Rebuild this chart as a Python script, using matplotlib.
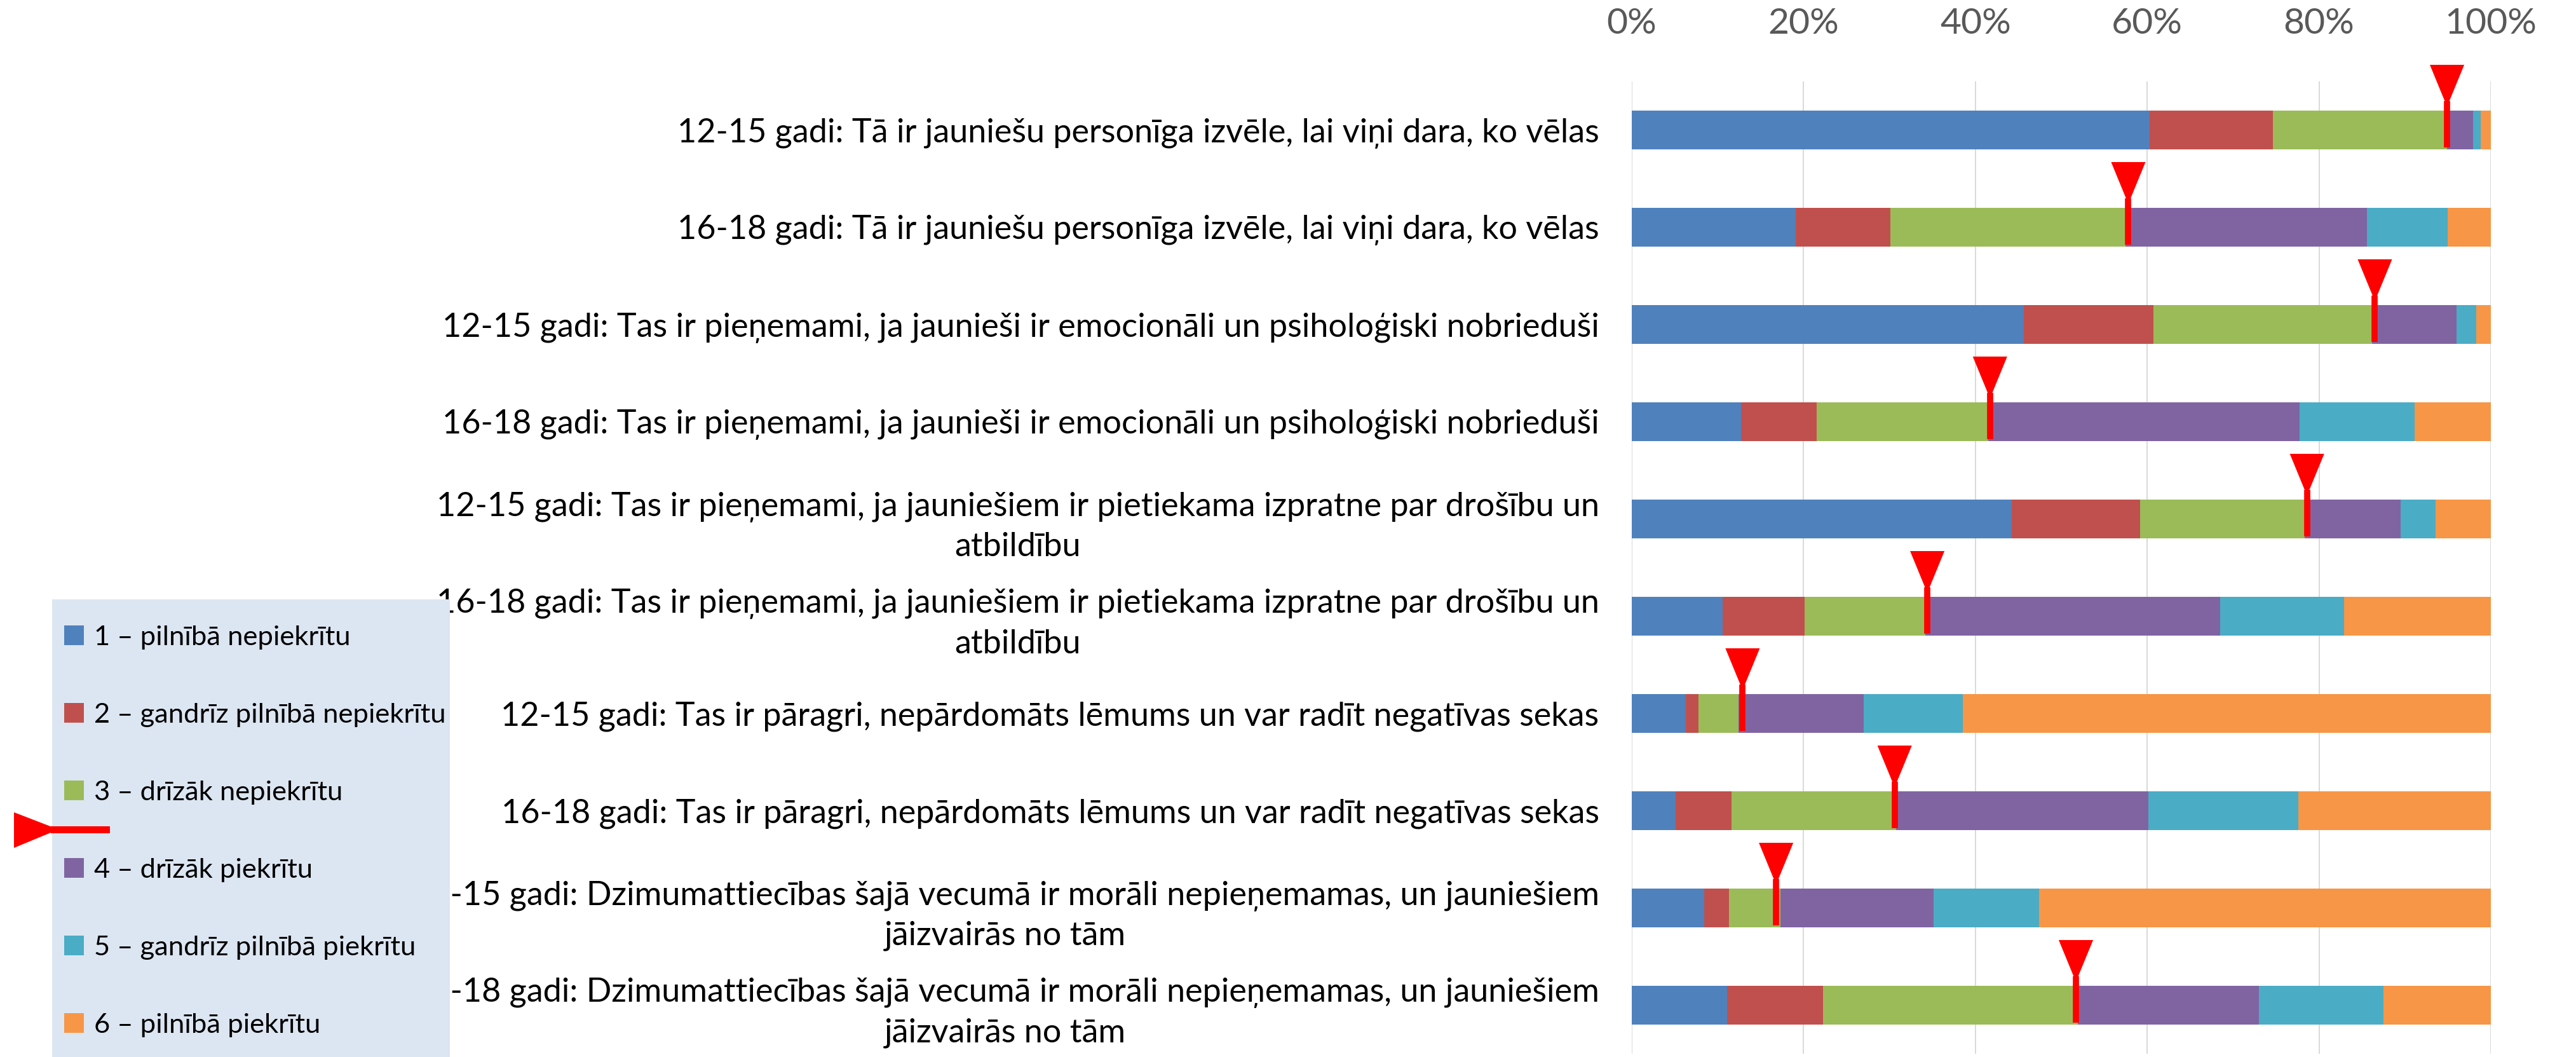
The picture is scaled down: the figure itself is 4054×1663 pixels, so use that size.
import matplotlib
matplotlib.use("Agg")
import matplotlib.pyplot as plt
from matplotlib.patches import Rectangle, Polygon
from matplotlib.ticker import PercentFormatter
import numpy as np

plt.rcParams['font.family'] = ['Lato', 'DejaVu Sans']

# category labels (top to bottom)
categories = [
    "12-15 gadi: Tā ir jauniešu personīga izvēle, lai viņi dara, ko vēlas",
    "16-18 gadi: Tā ir jauniešu personīga izvēle, lai viņi dara, ko vēlas",
    "12-15 gadi: Tas ir pieņemami, ja jaunieši ir emocionāli un psiholoģiski nobrieduši",
    "16-18 gadi: Tas ir pieņemami, ja jaunieši ir emocionāli un psiholoģiski nobrieduši",
    "12-15 gadi: Tas ir pieņemami, ja jauniešiem ir pietiekama izpratne par drošību un\natbildību",
    "16-18 gadi: Tas ir pieņemami, ja jauniešiem ir pietiekama izpratne par drošību un\natbildību",
    "12-15 gadi: Tas ir pāragri, nepārdomāts lēmums un var radīt negatīvas sekas",
    "16-18 gadi: Tas ir pāragri, nepārdomāts lēmums un var radīt negatīvas sekas",
    "12-15 gadi: Dzimumattiecības šajā vecumā ir morāli nepieņemamas, un jauniešiem\njāizvairās no tām",
    "16-18 gadi: Dzimumattiecības šajā vecumā ir morāli nepieņemamas, un jauniešiem\njāizvairās no tām",
]

series_names = [
    "1 – pilnībā nepiekrītu",
    "2 – gandrīz pilnībā nepiekrītu",
    "3 – drīzāk nepiekrītu",
    "4 – drīzāk piekrītu",
    "5 – gandrīz pilnībā piekrītu",
    "6 – pilnībā piekrītu",
]

# shares in %
s1 = [60.3, 19.1, 45.6, 12.7, 44.2, 10.6, 6.3, 5.1, 8.4, 11.1]
s2 = [14.3, 11.0, 15.1, 8.8, 15.0, 9.5, 1.5, 6.5, 2.9, 11.2]
s3 = [20.3, 27.4, 25.5, 20.0, 19.1, 14.1, 4.6, 19.2, 6.0, 29.6]
s4 = [3.0, 28.1, 9.8, 36.2, 11.2, 34.3, 14.6, 29.3, 17.8, 21.1]
s5 = [0.9, 9.4, 2.3, 13.4, 4.1, 14.4, 11.5, 17.5, 12.3, 14.5]
s6 = [1.2, 5.0, 1.7, 8.9, 6.4, 17.1, 61.5, 22.4, 52.6, 12.5]

# red marker positions (%)
markers = [94.9, 57.8, 86.5, 41.7, 78.6, 34.4, 12.9, 30.6, 16.8, 51.7]

colors = ["#4F81BD", "#C0504D", "#9BBB59", "#8064A2", "#4BACC6", "#F79646"]

W, H = 4055, 1663
fig = plt.figure(figsize=(W / 100, H / 100), dpi=100)
ax = fig.add_axes([2568 / W, 1 - 1658 / H, (3920 - 2568) / W, (1658 - 128) / H])

y = np.arange(len(categories))
left = np.zeros(len(categories))
handles = []
for vals, col, name in zip([s1, s2, s3, s4, s5, s6], colors, series_names):
    b = ax.barh(y, vals, left=left, height=0.4, color=col, label=name, zorder=2)
    handles.append(b)
    left += np.array(vals)

# red pointers: narrow triangle on top, line through the bar
for yi, m in zip(y, markers):
    ax.fill([m - 2.0, m + 2.0, m], [yi - 0.67, yi - 0.67, yi - 0.24],
            color="#FF0000", zorder=4, lw=0, clip_on=False)
    ax.plot([m, m], [yi - 0.3, yi + 0.18], color="#FF0000", lw=7, zorder=4,
            solid_capstyle="butt", clip_on=False)

ax.set_xlim(0, 100)
ax.set_ylim(len(categories) - 0.5, -0.5)
ax.xaxis.set_major_formatter(PercentFormatter(decimals=0))
ax.set_xticks([0, 20, 40, 60, 80, 100])
ax.xaxis.tick_top()
ax.tick_params(axis="x", length=0, pad=47, labelsize=41, labelcolor="#595959")
ax.set_yticks(y)
ax.set_yticklabels(categories, multialignment="center", linespacing=1.4)
ax.tick_params(axis="y", length=0, pad=37, labelsize=37.5)
ax.grid(axis="x", color="#D9D9D9", lw=1.4, zorder=0)
ax.set_axisbelow(True)
for sp in ax.spines.values():
    sp.set_visible(False)

# legend box (drawn over the labels)
fig.patches.append(Rectangle((82 / W, 0), 626 / W, (H - 943) / H,
                             transform=fig.transFigure, facecolor="#DCE6F2",
                             edgecolor="none", zorder=3))
fig.legend(handles=handles, loc="upper left", bbox_to_anchor=(101 / W, 1 - 984 / H),
           frameon=False, fontsize=31.3, handlelength=0.72, handleheight=0.72,
           handletextpad=0.35, labelspacing=1.93, borderpad=0, borderaxespad=0)

# red pointer on the left
fig.patches.append(Polygon([(22 / W, 1 - 1278 / H), (22 / W, 1 - 1334 / H), (92 / W, 1 - 1305 / H)],
                           closed=True, transform=fig.transFigure, facecolor="#FF0000",
                           edgecolor="none", zorder=6))
fig.patches.append(Rectangle((80 / W, 1 - 1311 / H), 93 / W, 11 / H,
                             transform=fig.transFigure, facecolor="#FF0000",
                             edgecolor="none", zorder=6))

fig.savefig("out.png", dpi=100)
